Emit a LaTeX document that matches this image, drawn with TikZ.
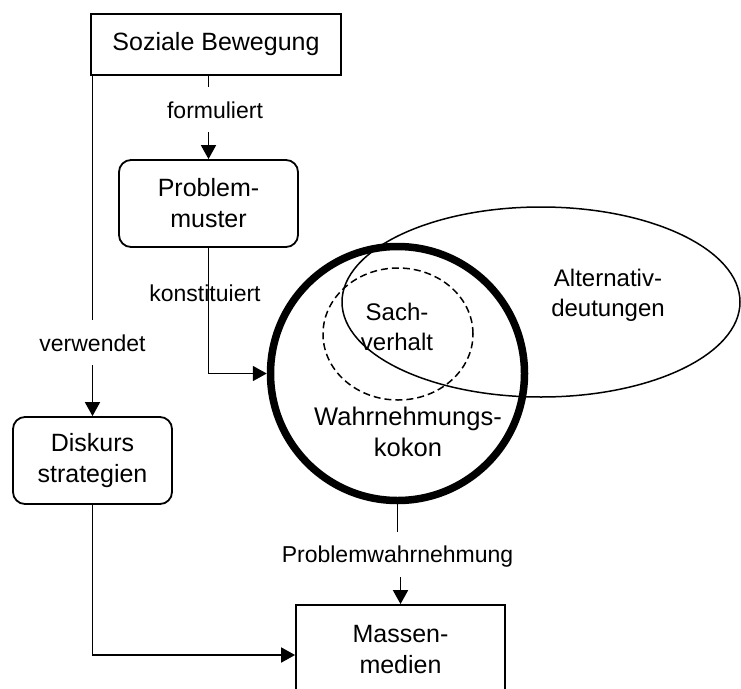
\documentclass[tikz,border=0pt]{standalone}
\usepackage{fontspec}
\setmainfont{Liberation Sans}
\usetikzlibrary{arrows.meta,shapes.geometric}
\begin{document}
\begin{tikzpicture}[x=1pt,y=-1pt,
  line width=1.8pt,
  box/.style={draw, rectangle, align=center, font=\fontsize{25}{31}\selectfont, inner sep=0pt},
  rbox/.style={box, rounded corners=12pt},
  lbl/.style={font=\fontsize{23}{27}\selectfont, inner sep=0pt},
  big/.style={align=center, font=\fontsize{25.5}{31}\selectfont, inner sep=0pt},
  mid/.style={align=center, font=\fontsize{24}{30}\selectfont, inner sep=0pt},
  arr/.style={-{Triangle[length=14pt,width=15pt]}}]
\useasboundingbox (0,0) rectangle (741,688);
\clip (0,0) rectangle (741,688);
\fill[white] (0,0) rectangle (741,688);

% boxes
\node[box, minimum width=250pt, minimum height=61pt] (sb) at (216,44.5) {Soziale Bewegung};
\node[rbox, minimum width=179pt, minimum height=87pt] (pm) at (208.5,203.5) {Problem-\\muster};
\node[rbox, minimum width=159pt, minimum height=87pt] (ds) at (92.5,460.5) {Diskurs\\strategien};
\node[box, minimum width=209pt, minimum height=90pt] (mm) at (400.5,650) {Massen-\\medien};

% ellipses and circles
\node[ellipse, draw, line width=1.5pt, minimum width=398pt, minimum height=190pt, inner sep=0pt] (alt) at (541,302) {};
\node[mid] (altt) at (608,295) {Alternativ-\\deutungen};
\node[ellipse, draw, dash pattern=on 7pt off 4pt, line width=1.5pt, minimum width=150pt, minimum height=132pt, inner sep=0pt] (sv) at (398,334) {};
\node[mid] (svt) at (397,327) {Sach-\\verhalt};
\node[circle, draw, line width=7.5pt, minimum size=254pt, inner sep=0pt] (wk) at (397.5,373.5) {};
\node[big] (wkt) at (408,432) {Wahrnehmungs-\\kokon};

% labels
\node[lbl] (fo) at (215,110) {formuliert};
\node[lbl] (ve) at (92.5,343) {verwendet};
\node[lbl] (ko) at (205,293) {konstituiert};
\node[lbl] (pw) at (397.5,557) {Problemwahrnehmung};

\coordinate (f1) at (208.5,87);
\coordinate (f2) at (208.5,132);
\coordinate (v1) at (92.5,320);
\coordinate (v2) at (92.5,365);
\coordinate (p1) at (397.5,532);
\coordinate (p2) at (400.5,577);

% connectors
\draw (sb.south -| pm.north) -- (f1);
\draw[arr] (f2) -- (pm.north);
\draw (sb.south -| ds.north) -- (v1);
\draw[arr] (v2) -- (ds.north);
\draw[arr] (pm.south) |- (wk.west);
\draw (wk.south) -- (p1);
\draw[arr] (p2) -- (mm.north);
\draw[arr] (ds.south) |- ([yshift=-5pt]mm.west);
\end{tikzpicture}
\end{document}
